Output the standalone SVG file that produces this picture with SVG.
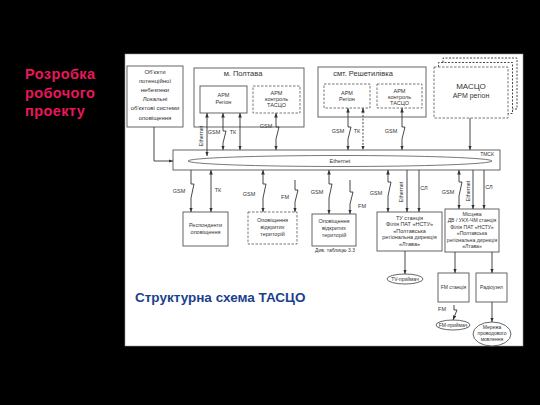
<svg xmlns="http://www.w3.org/2000/svg" width="540" height="405" viewBox="0 0 540 405">
<defs>
<marker id="a" viewBox="0 0 10 10" refX="10" refY="5" markerUnits="userSpaceOnUse" markerWidth="4.5" markerHeight="4.5" orient="auto-start-reverse"><path d="M0,1 L10,5 L0,9 z" fill="#333"/></marker>
<style>
.t{font-family:"Liberation Sans",Arial,sans-serif;fill:#333;text-anchor:middle}
.s{font-size:5.5px}
.m{font-size:6px}
.b{fill:#fff;stroke:#555;stroke-width:0.9}
.d{fill:#fff;stroke:#666;stroke-width:0.9;stroke-dasharray:2.5 1.5}
.c{fill:none;stroke:#333;stroke-width:0.9}
.cd{fill:none;stroke:#333;stroke-width:0.9;stroke-dasharray:2 1.5}
</style>
</defs>
<rect x="0" y="0" width="540" height="405" fill="#000"/>
<rect x="125" y="54" width="398" height="292" fill="#fff" stroke="#999" stroke-width="0.6"/>

<g id="title">
<text x="25" y="79" font-family="Liberation Sans,Arial,sans-serif" font-weight="bold" font-size="14.5" fill="#e8185c" letter-spacing="0.4">Розробка</text>
<text x="25" y="98" font-family="Liberation Sans,Arial,sans-serif" font-weight="bold" font-size="14.5" fill="#e8185c" letter-spacing="0.4">робочого</text>
<text x="25" y="116" font-family="Liberation Sans,Arial,sans-serif" font-weight="bold" font-size="14.5" fill="#e8185c" letter-spacing="0.4">проекту</text>
</g>
<g id="caption">
<text x="135" y="302" font-family="Liberation Sans,Arial,sans-serif" font-weight="bold" font-size="13.5" fill="#1b3f8f">Структурна схема ТАСЦО</text>
</g>

<g id="objects">
<rect class="b" x="127" y="66" width="56" height="61"/>
<text class="t m" x="155" y="74">Об'єкти</text>
<text class="t m" x="155" y="83">потенційної</text>
<text class="t m" x="155" y="92">небезпеки</text>
<text class="t m" x="155" y="101">Локальні</text>
<text class="t m" x="155" y="110">об'єктові системи</text>
<text class="t m" x="155" y="120">оповіщення</text>
</g>

<g id="poltava">
<rect class="b" x="194" y="68" width="110" height="59"/>
<text class="t" x="243" y="76" font-size="7.5">м. Полтава</text>
</g>
<g id="poltava-arm">
<rect class="b" x="200" y="86" width="47" height="27"/>
<text class="t s" x="223.5" y="97">АРМ</text>
<text class="t s" x="223.5" y="104">Регіон</text>
</g>
<g id="poltava-control">
<rect class="d" x="253" y="86" width="47" height="27"/>
<text class="t s" x="276.5" y="95">АРМ</text>
<text class="t s" x="276.5" y="101">контроль</text>
<text class="t s" x="276.5" y="107">ТАСЦО</text>
</g>

<g id="reshetylivka">
<rect class="b" x="318" y="67" width="108" height="50"/>
<text class="t" x="363" y="76" font-size="7.5">смт. Решетилівка</text>
</g>
<g id="resh-arm">
<rect class="d" x="324" y="84" width="46" height="24"/>
<text class="t s" x="347" y="95">АРМ</text>
<text class="t s" x="347" y="101">Регіон</text>
</g>
<g id="resh-control">
<rect class="d" x="377" y="84" width="45" height="24"/>
<text class="t s" x="399.5" y="93">АРМ</text>
<text class="t s" x="399.5" y="99">контроль</text>
<text class="t s" x="399.5" y="105">ТАСЦО</text>
</g>

<g id="masco">
<path class="cd" d="M443,62.5 V58 H517 V109 H512.5" stroke="#666"/>
<path class="cd" d="M438.5,67 V62.5 H512.5 V113.5 H508" stroke="#666"/>
<rect class="d" x="434" y="67" width="74" height="51"/>
<text class="t" x="471" y="89" font-size="8">МАСЦО</text>
<text class="t" x="471" y="98" font-size="7">АРМ регіон</text>
</g>

<g id="bus">
<rect class="b" x="173" y="150" width="327" height="20"/>
<ellipse cx="340" cy="161" rx="152" ry="5.5" fill="none" stroke="#555" stroke-width="0.8"/>
<text class="t s" x="340" y="163">Ethernet</text>
<text class="t" x="487" y="156" font-size="5">ТМСК</text>
</g>

<g id="respondents">
<rect class="b" x="183" y="212" width="45" height="34"/>
<text class="t s" x="205.5" y="227">Респонденти</text>
<text class="t s" x="205.5" y="234">оповіщення</text>
</g>
<g id="open-areas-planned">
<rect class="d" x="248" y="212" width="49" height="32"/>
<text class="t s" x="272.5" y="222">Оповіщення</text>
<text class="t s" x="272.5" y="229">відкритих</text>
<text class="t s" x="272.5" y="236">територій</text>
</g>
<g id="open-areas">
<rect class="b" x="312" y="214" width="44" height="32"/>
<text class="t s" x="334" y="223">Оповіщення</text>
<text class="t s" x="334" y="230">відкритих</text>
<text class="t s" x="334" y="237">територій</text>
<text class="t" x="335" y="252" font-size="5">Див. таблицю 3.3</text>
</g>
<g id="tv-station">
<rect class="b" x="377" y="212" width="65" height="39"/>
<text class="t s" x="409.5" y="219.5">ТУ станція</text>
<text class="t s" x="409.5" y="226">Філія ПАТ «НСТУ»</text>
<text class="t s" x="409.5" y="232.5">«Полтавська</text>
<text class="t s" x="409.5" y="239">регіональна дирекція</text>
<text class="t s" x="409.5" y="245.5">«Лтава»</text>
</g>
<g id="local-station">
<rect class="b" x="445" y="209" width="54" height="43"/>
<text class="t" font-size="5.1" x="472" y="215.5">Місцева</text>
<text class="t" font-size="5.1" x="472" y="222">ДВ / УКХ-ЧМ станція</text>
<text class="t" font-size="5.1" x="472" y="228.5">Філія ПАТ «НСТУ»</text>
<text class="t" font-size="5.1" x="472" y="235">«Полтавська</text>
<text class="t" font-size="5.1" x="472" y="241.5">регіональна дирекція</text>
<text class="t" font-size="5.1" x="472" y="248">«Лтава»</text>
</g>
<g id="tv-receiver">
<ellipse class="b" cx="405" cy="279" rx="18" ry="5"/>
<text class="t" font-size="5" x="405" y="281">TV-приймач</text>
</g>
<g id="fm-station">
<rect class="b" x="438" y="273" width="31" height="29"/>
<text class="t" font-size="5" x="453.5" y="289">FM станція</text>
</g>
<g id="radio-node">
<rect class="b" x="476" y="273" width="31" height="29"/>
<text class="t" font-size="5" x="491.5" y="289">Радіоузел</text>
</g>
<g id="fm-receiver">
<ellipse class="b" cx="453" cy="325" rx="17" ry="5"/>
<text class="t" font-size="5" x="453" y="327">FM-приймач</text>
</g>
<g id="wired-network">
<ellipse class="b" cx="492" cy="334" rx="19" ry="12"/>
<text class="t" font-size="5" x="492" y="329">Мережа</text>
<text class="t" font-size="5" x="492" y="335">проводового</text>
<text class="t" font-size="5" x="492" y="341">мовлення</text>
</g>

<g id="connectors">
<path class="c" d="M154,127 V161 H173" marker-end="url(#a)"/>
<path class="c" d="M207,113 V156" marker-start="url(#a)" marker-end="url(#a)"/>
<path class="c" d="M223,113 V131 h3 L223,143 V150" marker-start="url(#a)" marker-end="url(#a)"/>
<path class="c" d="M240,113 V150" marker-start="url(#a)" marker-end="url(#a)"/>
<path class="c" d="M276,113 V127 h3 L276,139 V150" marker-start="url(#a)" marker-end="url(#a)"/>
<path class="c" d="M348,108 V127 h3 L348,139 V150" marker-start="url(#a)" marker-end="url(#a)"/>
<path class="cd" d="M363,108 V150" marker-start="url(#a)" marker-end="url(#a)"/>
<path class="c" d="M402,108 V127 h3 L402,139 V150" marker-start="url(#a)" marker-end="url(#a)"/>
<path class="c" d="M470,118 V150" marker-end="url(#a)"/>

<path class="c" d="M191,170 V184 h3 L191,198 V212" marker-end="url(#a)"/>
<path class="c" d="M211,170 V212" marker-start="url(#a)" marker-end="url(#a)"/>
<path class="c" d="M263,170 V184 h3 L263,198 V212" marker-start="url(#a)" marker-end="url(#a)"/>
<path class="c" d="M295,180 V190 h3 L295,202 V212" marker-end="url(#a)"/>
<path class="c" d="M329,170 V184 h3 L329,198 V214" marker-start="url(#a)" marker-end="url(#a)"/>
<path class="c" d="M350,180 V192 h3 L350,204 V214" marker-end="url(#a)"/>
<path class="c" d="M388,170 V182 h3 L388,196 V212" marker-start="url(#a)" marker-end="url(#a)"/>
<path class="c" d="M407,170 V212" marker-end="url(#a)"/>
<path class="c" d="M419,170 V212" marker-end="url(#a)"/>
<path class="c" d="M459,170 V182 h3 L459,196 V209" marker-start="url(#a)" marker-end="url(#a)"/>
<path class="c" d="M473,170 V209" marker-end="url(#a)"/>
<path class="c" d="M484,170 V209" marker-end="url(#a)"/>

<path class="c" d="M405,251 V274" marker-end="url(#a)"/>
<path class="c" d="M455,252 V273" marker-end="url(#a)"/>
<path class="c" d="M492,252 V273" marker-end="url(#a)"/>
<path class="c" d="M454,305 V310 h3 L453,320" marker-end="url(#a)"/>
<path class="c" d="M492,302 V322" marker-end="url(#a)"/>

<text class="t s" transform="translate(203,136) rotate(-90)">Ethernet</text>
<text class="t s" x="214" y="134">GSM</text>
<text class="t s" x="233" y="134">ТК</text>
<text class="t s" x="266" y="128">GSM</text>
<text class="t s" x="338" y="133">GSM</text>
<text class="t s" x="357" y="133">ТК</text>
<text class="t s" x="391" y="133">GSM</text>

<text class="t s" x="179" y="193">GSM</text>
<text class="t s" x="218" y="192">ТК</text>
<text class="t s" x="249" y="196">GSM</text>
<text class="t s" x="285" y="199">FM</text>
<text class="t s" x="317" y="194">GSM</text>
<text class="t s" x="362" y="208">FM</text>
<text class="t s" x="376" y="195">GSM</text>
<text class="t s" transform="translate(402.5,192) rotate(-90)">Ethernet</text>
<text class="t s" x="424" y="190">СЛ</text>
<text class="t s" x="448" y="194">GSM</text>
<text class="t s" transform="translate(470,191) rotate(-90)">Ethernet</text>
<text class="t s" x="489" y="189">СЛ</text>
<text class="t s" x="442" y="311">FM</text>
</g>
</svg>
